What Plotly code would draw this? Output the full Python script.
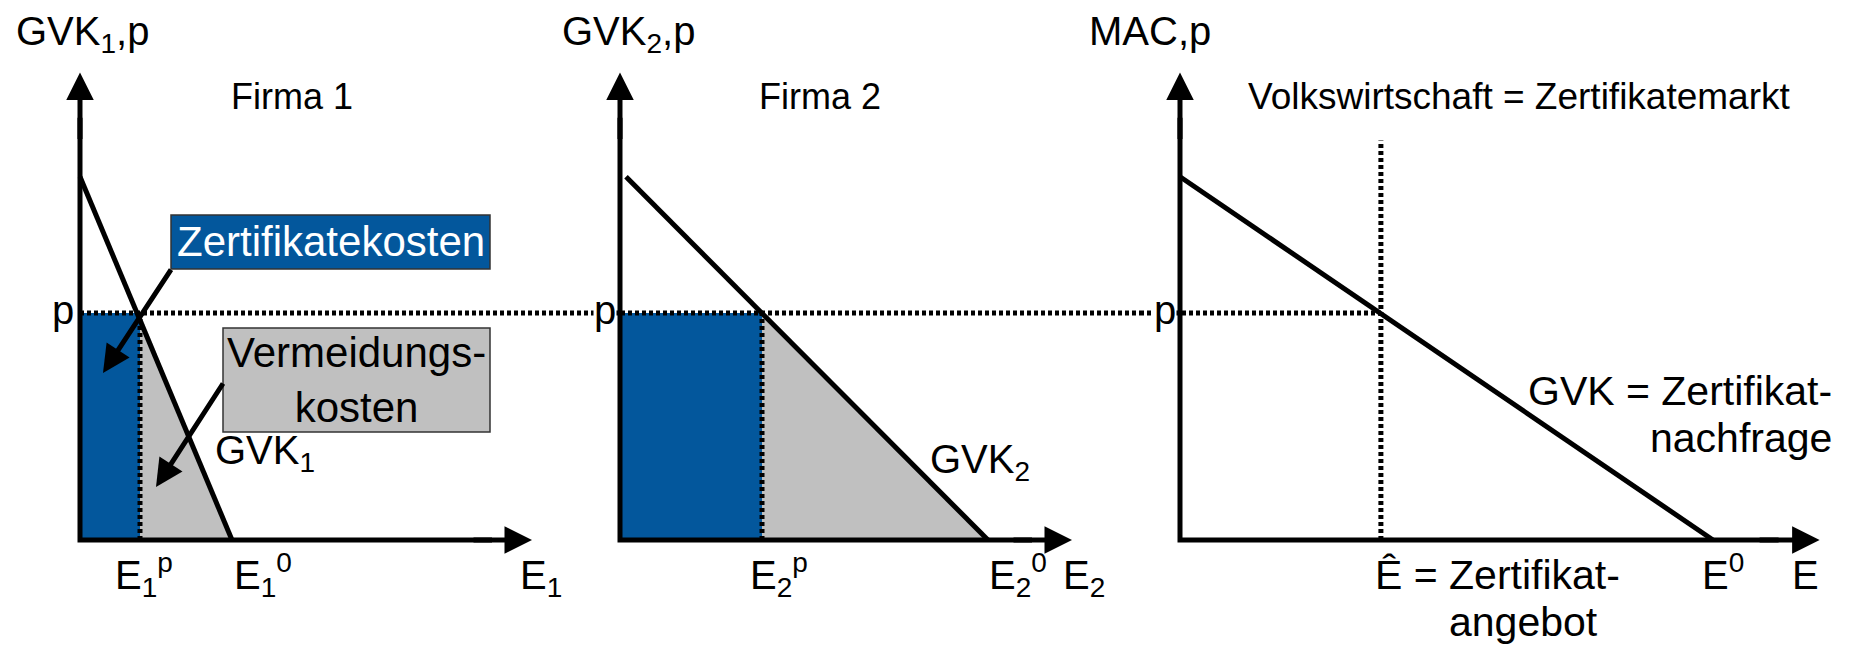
import plotly.graph_objects as go

# ---------------- data ----------------
panel_titles = ["Firma 1", "Firma 2", "Volkswirtschaft = Zertifikatemarkt"]
y_axis_labels = ["GVK<sub>1</sub>,p", "GVK<sub>2</sub>,p", "MAC,p"]
curve_labels = ["GVK<sub>1</sub>", "GVK<sub>2</sub>"]
market_curve_label = ["GVK = Zertifikat-", "nachfrage"]
supply_label = ["Ê = Zertifikat-", "angebot"]
e_price_labels = ["E<sub>1</sub><sup>p</sup>", "E<sub>2</sub><sup>p</sup>"]
e_zero_labels = ["E<sub>1</sub><sup>0</sup>", "E<sub>2</sub><sup>0</sup>", "E<sup>0</sup>"]
x_axis_labels = ["E<sub>1</sub>", "E<sub>2</sub>", "E"]
box_labels = ["Zertifikatekosten", "Vermeidungs-<br>kosten"]

gvk_intercept = [8.0, 8.0, 8.0]      # marginal abatement cost at E = 0
gvk_start_x = [0.0, 0.15, 0.0]
e_zero = [3.8, 9.2, 13.0]            # unregulated emissions E^0
e_price = [1.5, 3.55, 4.9]           # emissions at certificate price p
price = 5.0                          # certificate price p
x_axis_len = [11.3, 11.3, 15.6]
y_axis_len = 10.3
cap_line_top = 8.8                   # top end of the Ê dotted line

BLUE = "#03579C"
GRAY = "#C0C0C0"
FONT = "Arial, Liberation Sans, sans-serif"

W, H = 1857, 646
x_domains = [[0, 600 / W], [600 / W, 1140 / W], [1140 / W, 1.0]]
x_ranges = [[-2.0, 13.0], [-0.5, 13.0], [-40 / 41, 677 / 41]]
y_range = [-106 / 45.4, 540 / 45.4]

axes = [("x", "y"), ("x2", "y2"), ("x3", "y3")]

fig = go.Figure()

def line_trace(xs, ys, xa, ya, width=5, dash=None, color="black"):
    return go.Scatter(x=xs, y=ys, mode="lines", xaxis=xa, yaxis=ya,
                      line=dict(color=color, width=width, dash=dash),
                      hoverinfo="skip", showlegend=False)

DOT = "4px,3px"
DOT_W = 5

for i, (xa, ya) in enumerate(axes):
    if i < 2:
        # certificate costs (blue) and abatement costs (grey)
        fig.add_trace(go.Scatter(x=[0, e_price[i], e_price[i], 0], y=[0, 0, price, price],
                                 fill="toself", fillcolor=BLUE, mode="lines",
                                 line=dict(width=0, color=BLUE), xaxis=xa, yaxis=ya,
                                 hoverinfo="skip", showlegend=False))
        fig.add_trace(go.Scatter(x=[e_price[i], e_zero[i], e_price[i]], y=[0, 0, price],
                                 fill="toself", fillcolor=GRAY, mode="lines",
                                 line=dict(width=0, color=GRAY), xaxis=xa, yaxis=ya,
                                 hoverinfo="skip", showlegend=False))
        fig.add_trace(line_trace([e_price[i], e_price[i]], [0, price], xa, ya, DOT_W, DOT))
    else:
        fig.add_trace(line_trace([e_price[i], e_price[i]], [0, cap_line_top], xa, ya, DOT_W, DOT))

    # horizontal price line p, continuous across the panels
    x_left = 0 if i == 0 else x_ranges[i][0]
    x_right = e_price[i] if i == 2 else x_ranges[i][1]
    fig.add_trace(line_trace([x_left, x_right], [price, price], xa, ya, DOT_W, DOT))

    # GVK / MAC curve
    fig.add_trace(line_trace([gvk_start_x[i], e_zero[i]], [gvk_intercept[i], 0], xa, ya, 5))

shapes = []
annotations = []

def txt(x, y, text, xa, ya, size, xanchor="left", yanchor="middle", color="black", **kw):
    annotations.append(dict(x=x, y=y, xref=xa, yref=ya, text=text, showarrow=False,
                            xanchor=xanchor, yanchor=yanchor,
                            font=dict(family=FONT, size=size, color=color), **kw))

def arrow(x0, y0, x1, y1, xa, ya, size=1.1):
    annotations.append(dict(x=x1, y=y1, ax=x0, ay=y0, xref=xa, yref=ya, axref=xa, ayref=ya,
                            text="", showarrow=True, arrowhead=2, arrowsize=size,
                            arrowwidth=5, arrowcolor="black", standoff=0, startstandoff=0))

for i, (xa, ya) in enumerate(axes):
    # axes with arrow heads
    shapes.append(dict(type="path", xref=xa, yref=ya,
                       path=f"M 0,{y_axis_len - 1} L 0,0 L {x_axis_len[i] - 1},0",
                       line=dict(color="black", width=5)))
    arrow(0, y_axis_len - 1.5, 0, y_axis_len, xa, ya)
    arrow(x_axis_len[i] - 1.5, 0, x_axis_len[i], 0, xa, ya)

# ----- panel 1 texts -----
txt(0.05, 11.145, y_axis_labels[0], "x", "y", 40, xanchor="center")
txt(3.725, 9.758, panel_titles[0], "x", "y", 36)
txt(-0.425, 5.066, "p", "x", "y", 40, xanchor="center")
txt(0.825, -0.771, e_price_labels[0], "x", "y", 40)
txt(3.8, -0.771, e_zero_labels[0], "x", "y", 40)
txt(10.95, -0.837, x_axis_labels[0], "x", "y", 40)
txt(3.325, 1.916, curve_labels[0], "x", "y", 40)

# boxes with arrows
shapes.append(dict(type="rect", xref="x", yref="y", x0=2.275, x1=10.25, y0=5.969, y1=7.159,
                   fillcolor=BLUE, line=dict(color="#333333", width=1.5)))
shapes.append(dict(type="rect", xref="x", yref="y", x0=3.575, x1=10.25, y0=2.379, y1=4.670,
                   fillcolor=GRAY, line=dict(color="#333333", width=1.5)))
txt(6.2625, 6.564, box_labels[0], "x", "y", 42, xanchor="center", color="white")
txt(6.9125, 3.524, box_labels[1], "x", "y", 42, xanchor="center")
arrow(2.3, 5.991, 0.575, 3.678, "x", "y")
arrow(3.6, 3.480, 1.9, 1.167, "x", "y")

# ----- panel 2 texts -----
txt(0.2, 11.145, y_axis_labels[1], "x2", "y2", 40, xanchor="center")
txt(3.425, 9.758, panel_titles[1], "x2", "y2", 36)
txt(-0.375, 5.066, "p", "x2", "y2", 40, xanchor="center", bgcolor="white", borderpad=0)
txt(3.2, -0.771, e_price_labels[1], "x2", "y2", 40)
txt(9.175, -0.771, e_zero_labels[1], "x2", "y2", 40)
txt(11.025, -0.837, x_axis_labels[1], "x2", "y2", 40)
txt(7.7, 1.718, curve_labels[1], "x2", "y2", 40)

# ----- panel 3 texts -----
txt(-0.73, 11.21, y_axis_labels[2], "x3", "y3", 40, xanchor="center")
txt(1.610, 9.758, panel_titles[2], "x3", "y3", 37)
txt(-0.366, 5.066, "p", "x3", "y3", 40, xanchor="center", bgcolor="white", borderpad=0)
txt(15.95, 3.282, market_curve_label[0], "x3", "y3", 41, xanchor="right")
txt(15.95, 2.247, market_curve_label[1], "x3", "y3", 41, xanchor="right")
txt(4.707, -0.771, supply_label[0], "x3", "y3", 41)
txt(8.366, -1.806, supply_label[1], "x3", "y3", 41, xanchor="center")
txt(12.683, -0.705, e_zero_labels[2], "x3", "y3", 40)
txt(14.878, -0.771, x_axis_labels[2], "x3", "y3", 40)

layout = dict(width=W, height=H, margin=dict(l=0, r=0, t=0, b=0),
              paper_bgcolor="white", plot_bgcolor="white", showlegend=False,
              shapes=shapes, annotations=annotations)
for i, (xa, ya) in enumerate(axes):
    xk = "xaxis" if i == 0 else f"xaxis{i + 1}"
    yk = "yaxis" if i == 0 else f"yaxis{i + 1}"
    layout[xk] = dict(domain=x_domains[i], range=x_ranges[i], visible=False,
                      fixedrange=True, anchor=ya)
    layout[yk] = dict(domain=[0, 1], range=y_range, visible=False,
                      fixedrange=True, anchor=xa)
fig.update_layout(**layout)

fig.write_html("out.html", config={"displayModeBar": False},
               post_script="document.body.style.margin='0';document.body.style.overflow='hidden';")
